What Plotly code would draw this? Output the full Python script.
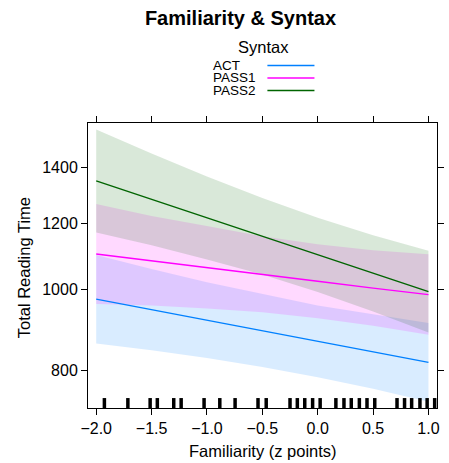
import plotly.graph_objects as go

# Effect of familiarity on total reading time, by syntax condition
familiarity = [-2.0, -1.5, -1.0, -0.5, 0.0, 0.5, 1.0]

act_fit = [973, 945, 918, 892, 866, 842, 817]
act_lower = [861, 845, 827, 807, 784, 760, 733]
act_upper = [1099, 1057, 1019, 986, 956, 933, 911]

pass1_fit = [1102, 1082, 1062, 1042, 1022, 1003, 985]
pass1_lower = [960, 956, 948, 938, 923, 904, 882]
pass1_upper = [1265, 1224, 1190, 1157, 1132, 1113, 1101]

pass2_fit = [1348, 1281, 1217, 1157, 1099, 1044, 993]
pass2_lower = [1169, 1129, 1085, 1041, 992, 940, 887]
pass2_upper = [1554, 1454, 1365, 1286, 1218, 1160, 1112]

# Observed familiarity scores (rug)
rug_x = [-1.926, -1.714, -1.513, -1.448, -1.300, -1.233, -1.026, -0.884,
         -0.746, -0.539, -0.465, -0.250, -0.184, -0.117, -0.046, 0.022,
         0.164, 0.237, 0.303, 0.376, 0.445, 0.515, 0.716, 0.784, 0.848,
         0.923, 0.988, 1.056]

series_names = ["ACT", "PASS1", "PASS2"]
series_colors = ["#0080ff", "#ff00ff", "#006400"]
band_colors = ["rgba(0,128,255,0.15)", "rgba(255,0,255,0.15)", "rgba(0,100,0,0.15)"]

x_ticks = [-2.0, -1.5, -1.0, -0.5, 0.0, 0.5, 1.0]
x_tick_labels = ["\u22122.0", "\u22121.5", "\u22121.0", "\u22120.5", "0.0", "0.5", "1.0"]
y_ticks = [800, 1000, 1200, 1400]

Y_MIN, Y_MAX = 720.4, 1581.5
RUG_TOP = 740.5

fits = [act_fit, pass1_fit, pass2_fit]
lowers = [act_lower, pass1_lower, pass2_lower]
uppers = [act_upper, pass1_upper, pass2_upper]

FONT = "Liberation Sans, Arial, sans-serif"

fig = go.Figure()

# confidence bands
for lo, up, bc in zip(lowers, uppers, band_colors):
    fig.add_trace(go.Scatter(x=familiarity, y=lo, mode="lines",
                             line=dict(width=0, color=bc), hoverinfo="skip",
                             showlegend=False))
    fig.add_trace(go.Scatter(x=familiarity, y=up, mode="lines",
                             line=dict(width=0, color=bc), fill="tonexty",
                             fillcolor=bc, hoverinfo="skip", showlegend=False))

# fitted lines
for name, fit, col in zip(series_names, fits, series_colors):
    fig.add_trace(go.Scatter(x=familiarity, y=fit, mode="lines", name=name,
                             line=dict(width=1.4, color=col), showlegend=False))

# rug
rx, ry = [], []
for v in rug_x:
    rx += [v, v, None]
    ry += [Y_MIN, RUG_TOP, None]
fig.add_trace(go.Scatter(x=rx, y=ry, mode="lines",
                         line=dict(width=3.5, color="black"),
                         hoverinfo="skip", showlegend=False))

W, H = 449, 463
L, R, T, B = 88, 5, 123, 55
pw, ph = W - L - R, H - T - B


def px(xp):
    return (xp - L) / pw


def py(yp):
    return (H - B - yp) / ph


annotations = [
    dict(text="Syntax", x=px(267.5), y=py(47), xref="paper", yref="paper",
         showarrow=False, xanchor="center", yanchor="middle",
         font=dict(size=16.5, family=FONT, color="black")),
    dict(text="Total Reading Time", x=px(23), y=py(268), xref="paper",
         yref="paper", showarrow=False, textangle=-90, xanchor="center",
         yanchor="middle", font=dict(size=16.5, family=FONT, color="black")),
    dict(text="Familiarity (z points)", x=px(266), y=py(451), xref="paper",
         yref="paper", showarrow=False, xanchor="center", yanchor="middle",
         font=dict(size=16.5, family=FONT, color="black")),
]
shapes = []
key_y = [65.5, 78, 90.5]
for name, col, ky in zip(series_names, series_colors, key_y):
    annotations.append(dict(text=name, x=px(213), y=py(ky), xref="paper",
                            yref="paper", showarrow=False, xanchor="left",
                            yanchor="middle",
                            font=dict(size=13.5, family=FONT, color="black")))
    shapes.append(dict(type="line", xref="paper", yref="paper",
                       x0=px(271), x1=px(319), y0=py(ky), y1=py(ky),
                       line=dict(color=col, width=1.4)))

axis_common = dict(showgrid=False, zeroline=False, showline=True,
                   linecolor="black", linewidth=1, mirror="ticks",
                   ticks="outside", ticklen=6, tickcolor="black", tickwidth=1,
                   tickfont=dict(size=16, family=FONT, color="black"))

fig.update_layout(
    width=W, height=H,
    margin=dict(l=L, r=R, t=T, b=B),
    paper_bgcolor="white", plot_bgcolor="white",
    title=dict(text="<b>Familiarity & Syntax</b>", x=240.5 / W, y=1 - 18 / H,
               xanchor="center", yanchor="middle",
               font=dict(size=20, family=FONT, color="black")),
    xaxis=dict(range=[-2.074, 1.077], tickvals=x_ticks,
               ticktext=x_tick_labels, **axis_common),
    yaxis=dict(type="log", range=[3.1991 - 0.3415, 3.1991], tickvals=y_ticks,
               ticktext=[str(v) for v in y_ticks], **axis_common),
    annotations=annotations,
    shapes=shapes,
    showlegend=False,
)

fig.write_html("out.html")
